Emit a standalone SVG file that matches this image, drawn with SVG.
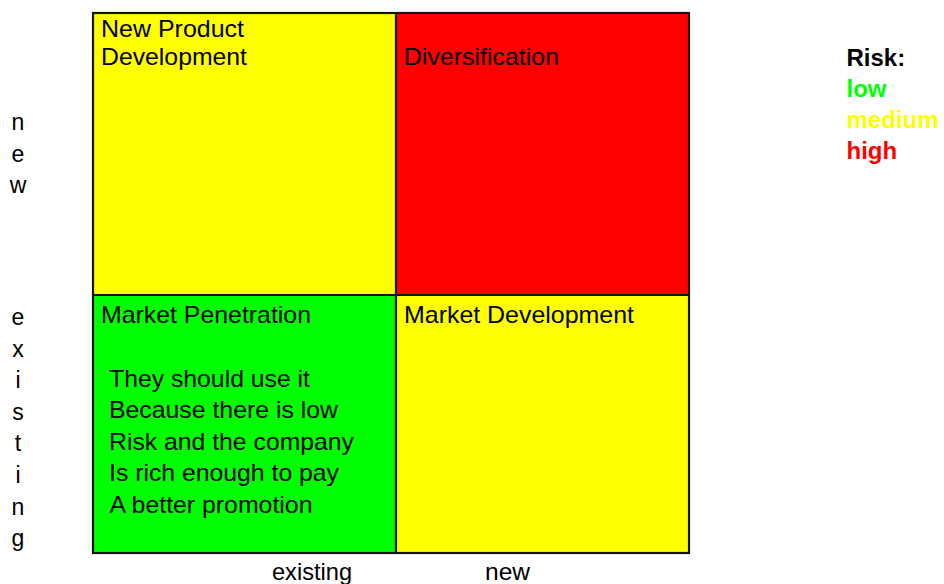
<svg xmlns="http://www.w3.org/2000/svg" width="944" height="584" viewBox="0 0 944 584">
  <style>
    .t { font-family: "Liberation Sans", Arial, sans-serif; font-size: 24px; fill: #000; }
    .ax { font-family: "Liberation Sans", Arial, sans-serif; font-size: 23px; fill: #000; text-anchor: middle; }
    .lg { font-family: "Liberation Sans", Arial, sans-serif; font-size: 24px; font-weight: bold; }
    .edge { fill: none; stroke: #141414; stroke-width: 2.2; }
  </style>
  <rect x="0" y="0" width="944" height="584" fill="#ffffff"/>

  <!-- Ansoff matrix quadrants -->
  <g id="new-product-development">
    <rect x="93" y="13" width="303" height="282" fill="#ffff00"/>
    <text class="t" x="101" y="37" textLength="143" lengthAdjust="spacingAndGlyphs">New Product</text>
    <text class="t" x="101" y="65" textLength="146" lengthAdjust="spacingAndGlyphs">Development</text>
  </g>
  <g id="diversification">
    <rect x="396" y="13" width="293" height="282" fill="#ff0000"/>
    <text class="t" x="404" y="65" textLength="155" lengthAdjust="spacingAndGlyphs">Diversification</text>
  </g>
  <g id="market-penetration">
    <rect x="93" y="295" width="303" height="258" fill="#00ff00"/>
    <text class="t" x="101" y="323" textLength="210" lengthAdjust="spacingAndGlyphs">Market Penetration</text>
    <text class="t" x="109" y="387" textLength="201" lengthAdjust="spacingAndGlyphs">They should use it</text>
    <text class="t" x="109" y="418" textLength="229" lengthAdjust="spacingAndGlyphs">Because there is low</text>
    <text class="t" x="109" y="449.5" textLength="245" lengthAdjust="spacingAndGlyphs">Risk and the company</text>
    <text class="t" x="109" y="481" textLength="230" lengthAdjust="spacingAndGlyphs">Is rich enough to pay</text>
    <text class="t" x="109.5" y="512.7" textLength="203" lengthAdjust="spacingAndGlyphs">A better promotion</text>
  </g>
  <g id="market-development">
    <rect x="396" y="295" width="293" height="258" fill="#ffff00"/>
    <text class="t" x="404" y="323" textLength="230" lengthAdjust="spacingAndGlyphs">Market Development</text>
  </g>

  <!-- frame and dividers -->
  <g id="grid">
    <rect class="edge" x="93" y="13" width="596" height="540"/>
    <line class="edge" x1="396" y1="13" x2="396" y2="553"/>
    <line class="edge" x1="93" y1="295" x2="689" y2="295"/>
  </g>

  <!-- vertical axis: product -->
  <g id="axis-product">
    <text class="ax" x="18" y="130">n</text>
    <text class="ax" x="18" y="161.6">e</text>
    <text class="ax" x="18" y="193.2">w</text>
    <text class="ax" x="18" y="325">e</text>
    <text class="ax" x="18" y="356.6">x</text>
    <text class="ax" x="18" y="388.2">i</text>
    <text class="ax" x="18" y="419.8">s</text>
    <text class="ax" x="18" y="451.4">t</text>
    <text class="ax" x="18" y="483">i</text>
    <text class="ax" x="18" y="514.6">n</text>
    <text class="ax" x="18" y="546.2">g</text>
  </g>

  <!-- horizontal axis: market -->
  <g id="axis-market">
    <text class="t" x="272" y="580" textLength="80" lengthAdjust="spacingAndGlyphs">existing</text>
    <text class="t" x="485" y="580" textLength="45" lengthAdjust="spacingAndGlyphs">new</text>
  </g>

  <!-- risk legend -->
  <g id="legend">
    <text class="lg" x="846.5" y="66" fill="#000000">Risk:</text>
    <text class="lg" x="846.5" y="97" fill="#00ff00">low</text>
    <text class="lg" x="846.5" y="128.3" fill="#ffff00">medium</text>
    <text class="lg" x="846.5" y="159.3" fill="#ff0000">high</text>
  </g>

  <!-- no connectors in this chart -->
  <g id="connectors"/>
</svg>
